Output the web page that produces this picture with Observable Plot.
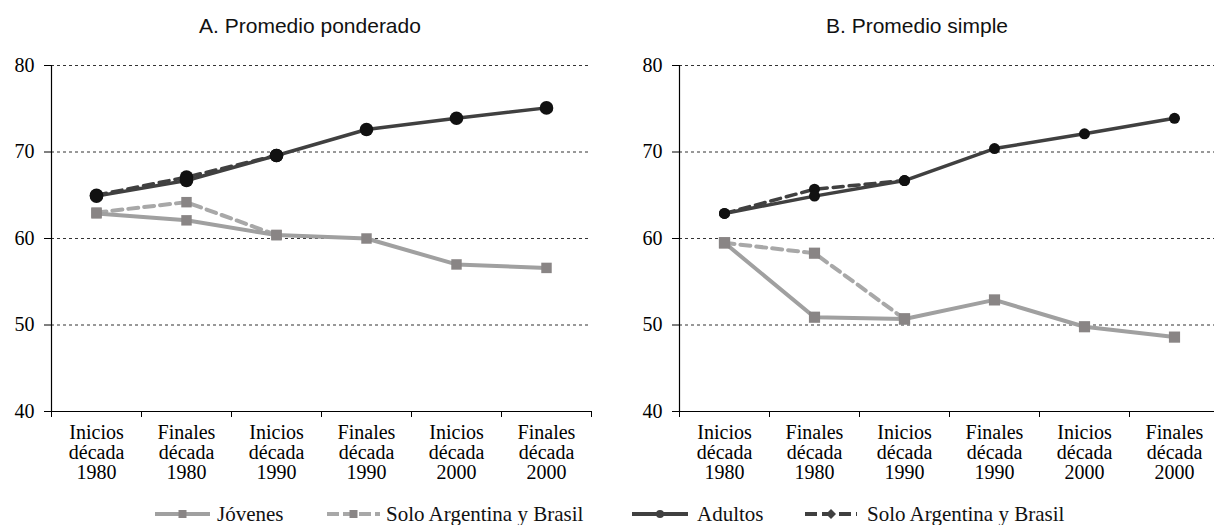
<!DOCTYPE html>
<html>
<head>
<meta charset="utf-8">
<script src="https://cdn.jsdelivr.net/npm/d3@7"></script>
<script src="https://cdn.jsdelivr.net/npm/@observablehq/plot@0.6"></script>
</head>
<body style="margin:0">
<div id="wrap" style="position:relative;width:1214px;height:525px">
  <div id="pA" style="position:absolute;left:0px;top:0px;width:628px">
    <div style="height:45px;box-sizing:border-box;padding-top:14px;line-height:24px;font-family:'Liberation Sans';font-size:21px;color:#111;text-align:center;width:620px">A. Promedio ponderado</div>
  </div>
  <div id="pB" style="position:absolute;left:628px;top:0px;width:586px">
    <div style="height:45px;box-sizing:border-box;padding-top:14px;line-height:24px;font-family:'Liberation Sans';font-size:21px;color:#111;text-align:center;width:578px">B. Promedio simple</div>
  </div>
  <div id="legend" style="position:absolute;left:0px;top:503px"></div>
</div>
<script>
// ---- data ----
const categories = ["Inicios\ndécada\n1980", "Finales\ndécada\n1980", "Inicios\ndécada\n1990",
                    "Finales\ndécada\n1990", "Inicios\ndécada\n2000", "Finales\ndécada\n2000"];
const yTicks = [40, 50, 60, 70, 80];
const gridValues = [50, 60, 70, 80];

// Panel A: promedio ponderado
const jovenesA        = [62.9, 62.1, 60.4, 60.0, 57.0, 56.6];
const jovenesArgBraA  = [63.0, 64.2, 60.4];
const adultosA        = [64.9, 66.7, 69.6, 72.6, 73.9, 75.1];
const adultosArgBraA  = [65.0, 67.1, 69.6];

// Panel B: promedio simple
const jovenesB        = [59.5, 50.9, 50.7, 52.9, 49.8, 48.6];
const jovenesArgBraB  = [59.5, 58.3, 50.7];
const adultosB        = [62.9, 64.9, 66.7, 70.4, 72.1, 73.9];
const adultosArgBraB  = [62.9, 65.7, 66.7];

const legendLabels = ["Jóvenes", "Solo Argentina y Brasil", "Adultos", "Solo Argentina y Brasil"];

// ---- styles ----
const C = {
  grayLine: "#a0a0a0", grayDash: "#a8a8a8", graySquare: "#898585",
  darkLine: "#404040", dot: "#111111", grid: "#333333", axis: "#000000", text: "#111111"
};

const rows = arr => arr.map((v, i) => ({i, v}));

function panel(jov, jovD, ad, adD, circleR, squareR, w) {
  return Plot.plot({
    width: w, height: 460,
    marginLeft: 51, marginRight: w - 591, marginTop: 20, marginBottom: 94,
    x: {type: "linear", domain: [-0.5, 5.5], label: null},
    y: {domain: [40, 80], label: null},
    style: {fontFamily: "'Liberation Serif'", fontSize: "20px"},
    marks: [
      Plot.ruleY(gridValues, {stroke: C.grid, strokeDasharray: "3,3", strokeWidth: 1}),
      Plot.ruleY([40], {stroke: C.axis, strokeWidth: 1.2}),
      Plot.ruleX([-0.5], {stroke: C.axis, strokeWidth: 1.2}),
      Plot.axisY({ticks: yTicks, tickSize: 7, tickPadding: 10, stroke: C.axis, label: null}),
      Plot.axisX({ticks: d3.range(7).map(k => k - 0.5), tickSize: 6, tickFormat: () => "", stroke: C.axis, label: null}),
      Plot.axisX({ticks: d3.range(6), tickSize: 0, tickPadding: 13, lineHeight: 1.0,
                  tickFormat: i => categories[i], label: null}),
      Plot.line(rows(jovD), {x: "i", y: "v", stroke: C.grayDash, strokeWidth: 4, strokeDasharray: "10,6"}),
      Plot.line(rows(jov), {x: "i", y: "v", stroke: C.grayLine, strokeWidth: 4}),
      Plot.dot(rows(jovD), {x: "i", y: "v", symbol: "square", r: squareR, fill: C.graySquare}),
      Plot.dot(rows(jov), {x: "i", y: "v", symbol: "square", r: squareR, fill: C.graySquare}),
      Plot.line(rows(adD), {x: "i", y: "v", stroke: C.darkLine, strokeWidth: 3.5, strokeDasharray: "10,6"}),
      Plot.line(rows(ad), {x: "i", y: "v", stroke: C.darkLine, strokeWidth: 3.5}),
      Plot.dot(rows(adD), {x: "i", y: "v", r: circleR, fill: C.dot}),
      Plot.dot(rows(ad), {x: "i", y: "v", r: circleR, fill: C.dot})
    ]
  });
}

// Panel B's frame runs past the right edge of the window in the reference;
// its SVG is 586 px wide with a negative right margin, so the frame is clipped there.
document.getElementById("pA").append(panel(jovenesA, jovenesArgBraA, adultosA, adultosArgBraA, 6.8, 5.9, 628));
document.getElementById("pB").append(panel(jovenesB, jovenesArgBraB, adultosB, adultosArgBraB, 5.5, 6.3, 586));

// ---- legend ----
const ns = "http://www.w3.org/2000/svg";
const lg = document.createElementNS(ns, "svg");
lg.setAttribute("width", 1214); lg.setAttribute("height", 22);
const el = (tag, attrs) => { const e = document.createElementNS(ns, tag); for (const k in attrs) e.setAttribute(k, attrs[k]); lg.append(e); return e; };
const cy = 11;
const items = [
  {x1: 155, x2: 210, stroke: C.grayLine, dash: null, marker: "square", fill: C.graySquare, tx: 217},
  {x1: 327, x2: 380, stroke: C.grayDash, dash: "12,4", marker: "square", fill: C.graySquare, tx: 386},
  {x1: 632, x2: 688, stroke: C.darkLine, dash: null, marker: "circle", fill: C.darkLine, tx: 697},
  {x1: 805, x2: 857, stroke: C.darkLine, dash: "12,5", marker: "diamond", fill: C.darkLine, tx: 867}
];
items.forEach((it, k) => {
  const l = el("line", {x1: it.x1, x2: it.x2, y1: cy, y2: cy, stroke: it.stroke, "stroke-width": 4});
  if (it.dash) l.setAttribute("stroke-dasharray", it.dash);
  const mx = (it.x1 + it.x2) / 2;
  if (it.marker === "square") el("rect", {x: mx - 4, y: cy - 4, width: 8, height: 8, fill: it.fill});
  else if (it.marker === "circle") el("circle", {cx: mx, cy: cy, r: 4, fill: it.fill});
  else el("path", {d: `M${mx},${cy - 5}L${mx + 5},${cy}L${mx},${cy + 5}L${mx - 5},${cy}Z`, fill: it.fill});
  const t = el("text", {x: it.tx, y: cy + 6.5, fill: C.text});
  t.setAttribute("style", "font-family:'Liberation Serif';font-size:21px");
  t.textContent = legendLabels[k];
});
document.getElementById("legend").append(lg);
</script>
</body>
</html>
